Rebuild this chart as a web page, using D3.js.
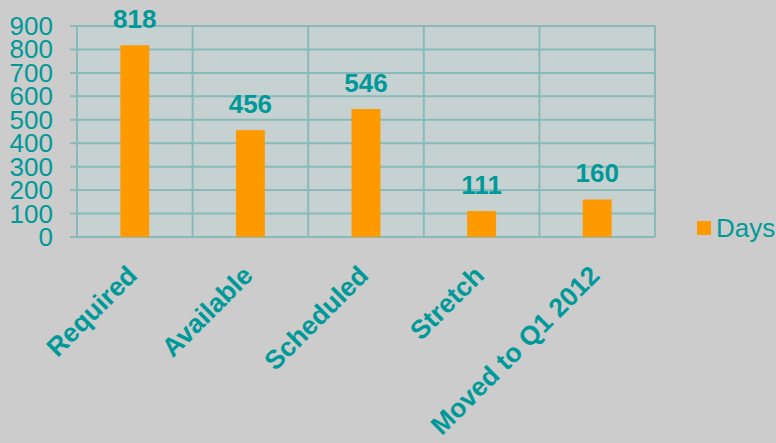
<!DOCTYPE html>
<html lang="en">
<head>
<meta charset="UTF-8">
<title>Days chart</title>
<script src="https://d3js.org/d3.v7.min.js"></script>
<style>
    body { margin: 0; background: #cccccc; }
    svg { display: block; font-family: "Liberation Sans", Arial, sans-serif; }
</style>
</head>
<body>
<script>

const categories = ['Required', 'Available', 'Scheduled', 'Stretch', 'Moved to Q1 2012'];
const days = [818, 456, 546, 111, 160];
const yTicks = [0, 100, 200, 300, 400, 500, 600, 700, 800, 900];

const width = 776, height = 443;
const plot = { left: 77, right: 655, top: 26, bottom: 237 };
const teal = '#009999';
const gridColor = '#88baba';

const svg = d3.select('body').append('svg')
    .attr('width', width)
    .attr('height', height);

svg.append('rect').attr('width', width).attr('height', height).attr('fill', '#cccccc');

// striped plot background
const pat = svg.append('defs').append('pattern')
    .attr('id', 'stripes')
    .attr('patternUnits', 'userSpaceOnUse')
    .attr('width', 4).attr('height', 2);
pat.append('rect').attr('width', 4).attr('height', 2).attr('fill', '#cdcdcd');
pat.append('rect').attr('width', 4).attr('height', 1).attr('fill', '#c0d6d6');

const x = d3.scaleBand().domain(categories).range([plot.left, plot.right]);
const y = d3.scaleLinear().domain([0, 900]).range([plot.bottom, plot.top]);

svg.append('rect')
    .attr('x', plot.left).attr('y', plot.top)
    .attr('width', plot.right - plot.left).attr('height', plot.bottom - plot.top)
    .attr('fill', 'url(#stripes)');

// horizontal gridlines + ticks
svg.append('g').selectAll('line')
    .data(yTicks)
    .enter()
    .append('line')
    .attr('x1', plot.left - 7).attr('x2', plot.right)
    .attr('y1', d => y(d)).attr('y2', d => y(d))
    .attr('stroke', gridColor).attr('stroke-width', 2);

// vertical gridlines at category boundaries
const bounds = categories.map(c => x(c)).concat([plot.right]);
svg.append('g').selectAll('line')
    .data(bounds)
    .enter()
    .append('line')
    .attr('x1', d => d).attr('x2', d => d)
    .attr('y1', plot.top).attr('y2', plot.bottom)
    .attr('stroke', gridColor).attr('stroke-width', 2);

// y labels
svg.append('g').selectAll('text')
    .data(yTicks)
    .enter()
    .append('text')
    .attr('x', 53)
    .attr('y', d => y(d) + 9)
    .attr('text-anchor', 'end')
    .attr('fill', teal)
    .style('font-size', '26px')
    .text(d => d);

// bars
const barW = x.bandwidth() * 0.25;
svg.append('g').selectAll('rect')
    .data(days)
    .enter()
    .append('rect')
    .attr('x', (d, i) => x(categories[i]) + x.bandwidth() / 2 - barW / 2)
    .attr('y', d => y(d))
    .attr('width', barW)
    .attr('height', d => y(0) - y(d))
    .attr('fill', '#ff9900');

// value labels
svg.append('g').selectAll('text')
    .data(days)
    .enter()
    .append('text')
    .attr('x', (d, i) => x(categories[i]) + x.bandwidth() / 2)
    .attr('y', d => y(d) - 17)
    .attr('text-anchor', 'middle')
    .attr('fill', teal)
    .style('font-size', '26px')
    .style('font-weight', 'bold')
    .text(d => d);

// category labels
svg.append('g').selectAll('text')
    .data(categories)
    .enter()
    .append('text')
    .attr('transform', d => `translate(${x(d) + x.bandwidth() / 2 + 4},${plot.bottom + 40}) rotate(-45)`)
    .attr('text-anchor', 'end')
    .attr('fill', teal)
    .style('font-size', '26.5px')
    .style('font-weight', 'bold')
    .text(d => d);

// legend
svg.append('rect')
    .attr('x', 697).attr('y', 221).attr('width', 14).attr('height', 14)
    .attr('fill', '#ff9900');
svg.append('text')
    .attr('x', 716).attr('y', 237)
    .attr('fill', teal)
    .style('font-size', '26px')
    .text('Days');

</script>
</body>
</html>
